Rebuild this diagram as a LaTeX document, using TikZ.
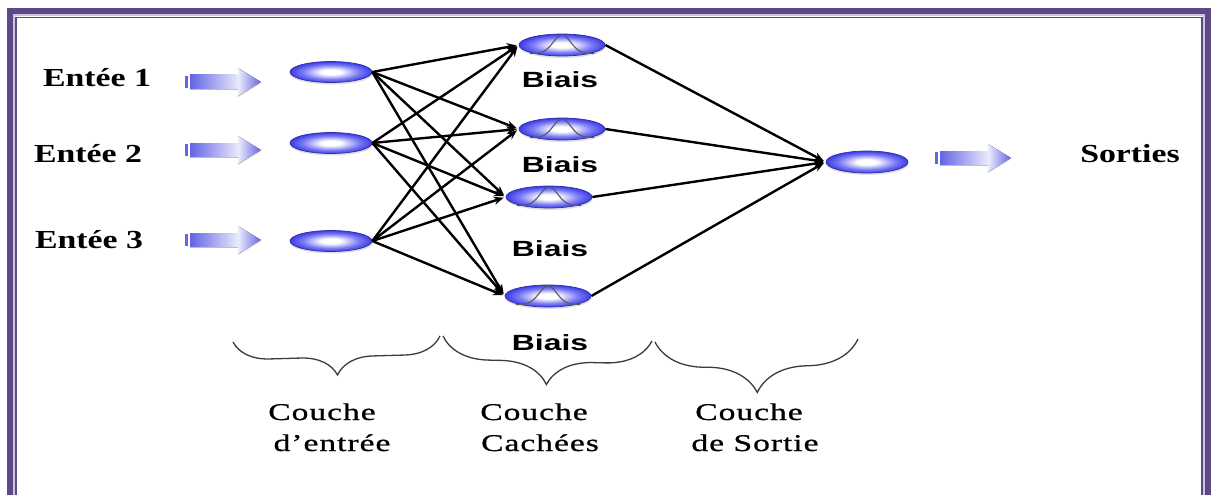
\documentclass[tikz,border=0pt]{standalone}
\usepackage{fontspec}
\usetikzlibrary{shapes.geometric,shadows,decorations.pathreplacing,arrows.meta}

\newfontfamily\entfont[FakeStretch=1.3]{Liberation Serif}
\newfontfamily\biaisfont[FakeStretch=1.45]{Liberation Sans}
\newfontfamily\couchefont[FakeStretch=1.4,LetterSpace=4,FakeBold=0.8]{Liberation Serif}

\definecolor{framepurple}{RGB}{93,74,133}
\definecolor{framelight}{RGB}{205,195,230}
\definecolor{nodeblue}{RGB}{60,60,230}
\definecolor{nodemid}{RGB}{125,125,245}
\definecolor{arrowblue}{RGB}{100,100,228}
\definecolor{arrowpale}{RGB}{236,236,252}
\definecolor{bracegray}{RGB}{60,60,60}

\pgfdeclareradialshading{neuron}{\pgfpoint{0bp}{0bp}}{%
  color(0bp)=(white); color(6bp)=(white); color(17bp)=(nodemid);
  color(25bp)=(nodeblue); color(50bp)=(nodeblue)}

\tikzset{
  neuron/.style={ellipse, inner sep=0pt, minimum width=82pt, minimum height=21pt,
    shading=neuron, draw=nodeblue!75!black, line width=0.7pt,
    drop shadow={shadow xshift=0.5pt, shadow yshift=-2pt, opacity=0.25}},
  hidden/.style={neuron, minimum width=86pt, minimum height=22pt},
  conn/.style={line width=2.4pt, -{Stealth[length=10pt,width=8pt]}, shorten >=2pt},
  entlab/.style={font=\entfont\bfseries\fontsize{26}{30}\selectfont, inner sep=0pt, anchor=base},
  biaslab/.style={font=\biaisfont\bfseries\fontsize{22}{26}\selectfont, inner sep=0pt, anchor=base},
  layerlab/.style={font=\couchefont\fontsize{24}{28}\selectfont, inner sep=0pt, anchor=base},
  layerbrace/.style={draw=bracegray, line width=1.3pt,
    decorate, decoration={brace, mirror, amplitude=#1}},
  gauss/.style={draw=black!65, line width=1.1pt},
  fatarrow/.pic={
    \fill[arrowblue] (0,-6) rectangle (3,6);
    \fill[left color=arrowblue, right color=arrowpale] (5,-7) rectangle (54,7);
    \fill[left color=arrowpale, right color=arrowblue]
      (53,-14) -- (76,0) -- (53,14) -- cycle;
    \draw[black!25, line width=0.6pt] (5,7.5) -- (53,7.5) (53,14.5) -- (76,0.5);
  }
}

\begin{document}
\begin{tikzpicture}[x=1pt, y=-1pt]
  \useasboundingbox (0,0) rectangle (1216,495);
  \clip (0,0) rectangle (1216,495);
  \fill[white] (0,0) rectangle (1216,495);

  % page frame: heavy outer band with a thin inner rule
  \draw[framepurple, line width=6pt] (9.5,520) -- (9.5,11.5) -- (1208,11.5) -- (1208,520);
  \draw[framelight, line width=1.6pt] (13.8,520) -- (13.8,15.3) -- (1204,15.3) -- (1204,520);
  \draw[framepurple, line width=1.4pt] (16,520) -- (16,17.5) -- (1201.8,17.5) -- (1201.8,520);

  % input labels
  \node[entlab] (e1) at (97,87) {Entée 1};
  \node[entlab] (e2) at (88,162) {Entée 2};
  \node[entlab] (e3) at (89,248) {Entée 3};
  \node[entlab] (out) at (1130,162) {Sorties};

  % feed arrows
  \pic at (185,82) {fatarrow};
  \pic at (185,150) {fatarrow};
  \pic at (185,240) {fatarrow};
  \pic at (935,158) {fatarrow};

  % neurons
  \node[neuron] (i1) at (331,72) {};
  \node[neuron] (i2) at (331,143) {};
  \node[neuron] (i3) at (331,241) {};
  \node[hidden] (h1) at (562,45) {};
  \node[hidden] (h2) at (562,129) {};
  \node[hidden] (h3) at (549,197) {};
  \node[hidden] (h4) at (548,296) {};
  \node[neuron, minimum height=22pt] (o) at (867,162) {};

  % gaussian activation inside each hidden neuron
  \foreach \h in {h1,h2,h3,h4}{
    \begin{scope}[shift={(\h.center)}]
      \draw[gauss] plot[domain=-32:32, samples=45, smooth]
        (\x, {8.5-18.5*exp(-1*(\x/12.5)*(\x/12.5))});
    \end{scope}
  }

  % bias labels
  \node[biaslab] (b1) at (560,88) {Biais};
  \node[biaslab] (b2) at (560,172) {Biais};
  \node[biaslab] (b3) at (550,256) {Biais};
  \node[biaslab] (b4) at (550,350) {Biais};

  % input -> hidden
  \foreach \i in {i1,i2,i3}
    \foreach \h in {h1,h2,h3,h4}
      \draw[conn] (\i.east) -- (\h.west);

  % hidden -> output
  \foreach \h in {h1,h2,h3,h4}
    \draw[conn] (\h.east) -- (o.west);

  % layer braces
  \draw[layerbrace=36pt] (233,342) -- (440,336);
  \draw[layerbrace=46pt] (443,336) -- (652,341);
  \draw[layerbrace=52pt] (655,342) -- (858,339);

  % layer names
  \node[layerlab] (c1a) at (322,420) {Couche};
  \node[layerlab] (c1b) at (332,451) {d’entrée};
  \node[layerlab] (c2a) at (534,420) {Couche};
  \node[layerlab] (c2b) at (540,451) {Cachées};
  \node[layerlab] (c3a) at (749,420) {Couche};
  \node[layerlab] (c3b) at (755,451) {de Sortie};
\end{tikzpicture}
\end{document}
